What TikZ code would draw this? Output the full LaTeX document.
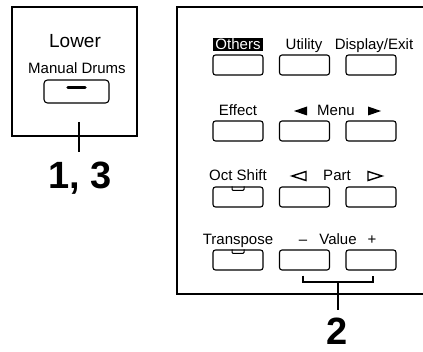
\documentclass[tikz,border=0pt]{standalone}
\usepackage{fontspec}
\setmainfont{Liberation Sans}
\usetikzlibrary{calc}
\tikzset{
  frame/.style={line width=1.4pt},
  btn/.style={draw, line width=1.1pt, rounded corners=2.5pt, minimum width=50pt, minimum height=20pt, inner sep=0pt},
  lbl/.style={anchor=base, inner sep=0pt, font=\fontsize{15}{16}\selectfont},
  big/.style={anchor=base, inner sep=0pt, font=\fontsize{38}{40}\selectfont\bfseries},
  wire/.style={line width=1.4pt},
  led/.style={line width=1pt, rounded corners=1pt},
}
\begin{document}
\begin{tikzpicture}[x=1pt,y=-1pt]
\useasboundingbox (0,0) rectangle (423,352);
% left panel
\draw[frame] (12,7) rectangle (137,136);
\node[anchor=base, inner sep=0pt, font=\fontsize{19}{21}\selectfont] (lower) at (75,48) {Lower};
\node[anchor=base, inner sep=0pt, font=\fontsize{15}{16}\selectfont] (md) at (77,73.5) {Manual Drums};
\node[btn, minimum width=65pt, minimum height=23pt, rounded corners=3.5pt] (lb) at (76.5,91.5) {};
\draw[line width=3.5pt, line cap=round] ($(lb.center)+(-8.5,-4)$) -- ($(lb.center)+(8.5,-4)$);
\coordinate (ltop) at (79,122);
\coordinate (lbot) at (79,152);
\draw[wire] (ltop) -- (lbot);
\node[big] (n13) at (80,189) {1, 3};
% right panel
\draw[frame] (423,7) -- (177,7) -- (177,294) -- (423,294);
% row 1
\node[anchor=base, fill=black, text=white, inner xsep=1pt, inner ysep=1pt, text height=10.5pt, text depth=0.5pt, minimum width=50pt, font=\fontsize{15}{16}\selectfont] (lothers) at (238,50) {Others};
\node[lbl] (lutil) at (304,50) {Utility};
\node[lbl] (ldisp) at (374,50) {Display/Exit};
\node[btn] (b11) at (238,65) {};
\node[btn] (b12) at (304.5,65) {};
\node[btn] (b13) at (371,65) {};
% row 2
\node[lbl] (leff) at (238,116) {Effect};
\node[lbl] (lmenu) at (336,116) {Menu};
\fill (294,111) -- (307,106.5) -- (307,115.5) -- cycle;
\fill (381,111) -- (368,106.5) -- (368,115.5) -- cycle;
\node[btn] (b21) at (238,131) {};
\node[btn] (b22) at (304.5,131) {};
\node[btn] (b23) at (371,131) {};
% row 3
\node[lbl] (loct) at (238,181) {Oct Shift};
\node[lbl] (lpart) at (337,181) {Part};
\draw[line width=1.4pt, line join=miter] (292,176) -- (306,171.5) -- (306,180.5) -- cycle;
\draw[line width=1.4pt, line join=miter] (382,176) -- (368,171.5) -- (368,180.5) -- cycle;
\node[btn] (b31) at (238,197) {};
\node[btn] (b32) at (304.5,197) {};
\node[btn] (b33) at (371,197) {};
\draw[led] ($(b31.north)+(-6,0)$) -- ++(0,4) -- ++(12,0) -- ++(0,-4);
% row 4
\node[lbl] (ltrans) at (238,245) {Transpose};
\node[lbl] (lvalue) at (338,245) {Value};
\node[lbl] (lminus) at (303,245) {–};
\node[lbl] (lplus) at (372,245) {+};
\node[btn] (b41) at (238,260) {};
\node[btn] (b42) at (304.5,260) {};
\node[btn] (b43) at (371,260) {};
\draw[led] ($(b41.north)+(-6,0)$) -- ++(0,4) -- ++(12,0) -- ++(0,-4);
% bracket
\coordinate (brmid) at (338,282);
\coordinate (brbot) at (338,310);
\draw[wire] ($(b42.south)+(-1.5,5)$) |- (brmid) -| ($(b43.south)+(2,5)$);
\draw[wire] (brmid) -- (brbot);
\node[big] (n2) at (337,345) {2};
\end{tikzpicture}
\end{document}
